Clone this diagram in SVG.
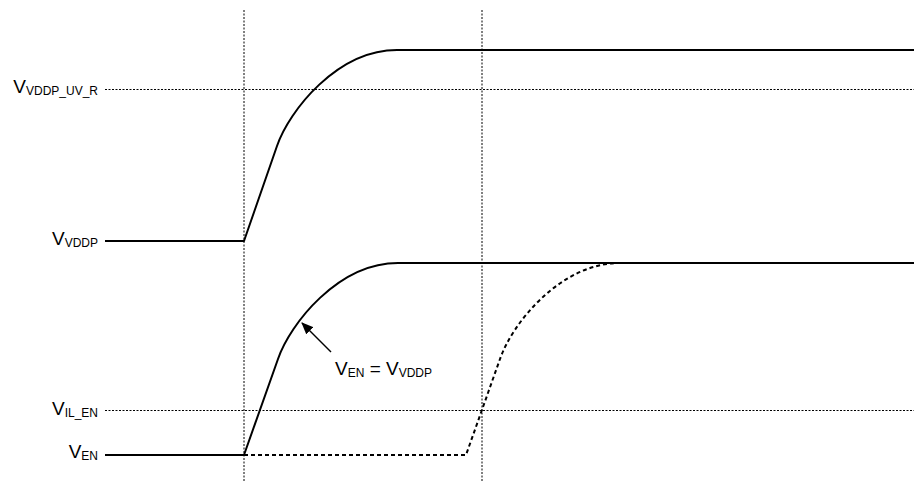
<svg xmlns="http://www.w3.org/2000/svg" width="914" height="487" viewBox="0 0 914 487">
<style>
.grid{stroke:#000;stroke-width:1;stroke-dasharray:2 1.5;fill:none}
.sig{stroke:#000;stroke-width:2;fill:none;stroke-linejoin:round}
.dash{stroke:#000;stroke-width:2;fill:none;stroke-dasharray:4 3}
text{font-family:"Liberation Sans",Arial,sans-serif;font-size:19px;fill:#000}
.sub{font-size:12px}
</style>
<defs>
<marker id="ah" markerWidth="12" markerHeight="10" refX="11" refY="5" orient="auto" markerUnits="userSpaceOnUse">
<path d="M0,0 L12,5 L0,10 Z" fill="#000"/>
</marker>
</defs>
<rect width="914" height="487" fill="#fff"/>
<g id="grid">
<line class="grid" x1="244" y1="10" x2="244" y2="482"/>
<line class="grid" x1="482" y1="10" x2="482" y2="482"/>
<line class="grid" x1="105" y1="89.5" x2="914" y2="89.5"/>
<line class="grid" x1="105" y1="410.5" x2="914" y2="410.5"/>
</g>
<g id="labels">
<text x="98" y="93" text-anchor="end">V<tspan class="sub" dy="2">VDDP_UV_R</tspan></text>
<text x="98" y="245" text-anchor="end">V<tspan class="sub" dy="2">VDDP</tspan></text>
<text x="98" y="415" text-anchor="end">V<tspan class="sub" dy="2">IL_EN</tspan></text>
<text x="98" y="458" text-anchor="end">V<tspan class="sub" dy="2">EN</tspan></text>
</g>
<g id="vddp">
<path class="sig" d="M105 241 H244 L277 146 C289 111 337 50 397 50 H914"/>
</g>
<g id="ven">
<path class="sig" d="M105 455 H244 L278 359 C290 324 338 263 398 263 H914"/>
</g>
<g id="ven-delayed">
<path class="dash" d="M244 455 H466 L500 359 C512 324 560 263 620 263"/>
</g>
<g id="annotation">
<line x1="331" y1="352" x2="302" y2="323" stroke="#000" stroke-width="1.5" marker-end="url(#ah)"/>
<text x="335" y="375">V<tspan class="sub" dy="2">EN</tspan><tspan dy="-2"> = V</tspan><tspan class="sub" dy="2">VDDP</tspan></text>
</g>
</svg>
